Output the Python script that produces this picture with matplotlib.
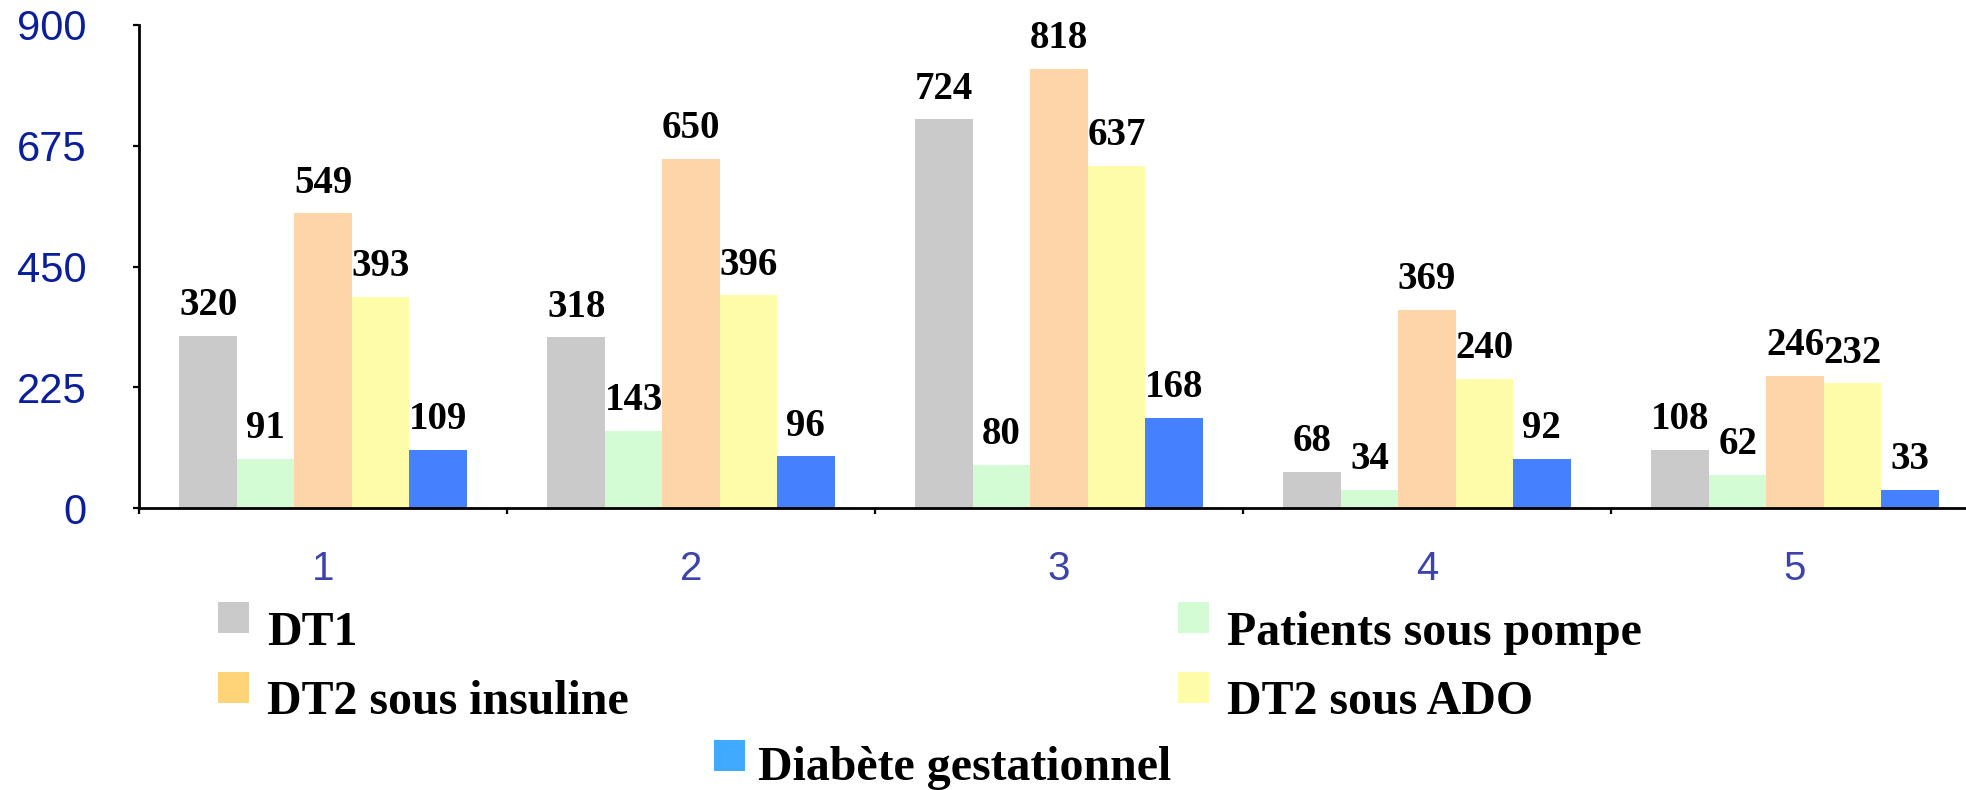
import matplotlib
matplotlib.use('Agg')
import matplotlib.pyplot as plt
from matplotlib.patches import Rectangle

# donnees
categories = ['1', '2', '3', '4', '5']
dt1 = [320, 318, 724, 68, 108]
pompe = [91, 143, 80, 34, 62]
dt2_insuline = [549, 650, 818, 369, 246]
dt2_ado = [393, 396, 637, 240, 232]
gestationnel = [109, 96, 168, 92, 33]

series = [dt1, pompe, dt2_insuline, dt2_ado, gestationnel]
noms = ['DT1', 'Patients sous pompe', 'DT2 sous insuline', 'DT2 sous ADO',
        'Diabète gestationnel']
couleurs_barres = ['#CACACA', '#D4FCD4', '#FED5A9', '#FEFCA9', '#4580FF']
couleurs_legende = ['#CACACA', '#D4FCD4', '#FFD478', '#FEFCA9', '#3FAAFF']

W, H = 1966, 790
fig = plt.figure(figsize=(W / 100, H / 100), dpi=100)
ax = fig.add_axes([139 / W, 282 / H, 1840 / W, 483 / H])

largeur = 0.156
x = range(len(categories))
for i, (vals, coul) in enumerate(zip(series, couleurs_barres)):
    pos = [k + (i - 2) * largeur for k in x]
    ax.bar(pos, vals, width=largeur, color=coul, linewidth=0)
    for px, v in zip(pos, vals):
        ax.annotate(str(v), (px, v), xytext=(0, 15), textcoords='offset points',
                    ha='center', va='baseline', fontsize=28, fontweight='bold',
                    family='Liberation Serif', color='black')

ax.set_xlim(-0.5, 4.5)
ax.set_ylim(0, 900)
ax.set_yticks([0, 225, 450, 675, 900])
ax.set_xticks(list(x))
ax.set_xticklabels(categories)
ax.set_xticks([k - 0.5 for k in range(len(categories) + 1)], minor=True)

for s in ['top', 'right']:
    ax.spines[s].set_visible(False)
for s in ['left', 'bottom']:
    ax.spines[s].set_linewidth(2)
    ax.spines[s].set_color('black')

ax.tick_params(axis='y', direction='out', length=4, width=1.6, pad=34,
               labelsize=30, labelcolor='#0A1F99')
ax.tick_params(axis='x', which='major', length=0, pad=30,
               labelsize=29, labelcolor='#3C44AA')
ax.tick_params(axis='x', which='minor', direction='out', length=4.5, width=1.6)
for lab in ax.get_xticklabels() + ax.get_yticklabels():
    lab.set_family('Liberation Sans')


def fx(p):
    return p / W


def fy(p):
    return 1 - p / H


# legende dessinee a la main (deux colonnes + une entree centree)
entrees = [(218, 602, 267, 645), (1178, 602, 1227, 645),
           (218, 672, 267, 714), (1178, 672, 1227, 714),
           (714, 740, 758, 780)]
for (mx, my, tx, ty), nom, coul in zip(entrees, noms, couleurs_legende):
    fig.add_artist(Rectangle((fx(mx), fy(my + 31)), 31 / W, 31 / H,
                             transform=fig.transFigure, color=coul, lw=0))
    fig.text(fx(tx), fy(ty), nom, ha='left', va='baseline', fontsize=34.5,
             fontweight='bold', family='Liberation Serif', color='black')

fig.savefig('out.png', dpi=100)
